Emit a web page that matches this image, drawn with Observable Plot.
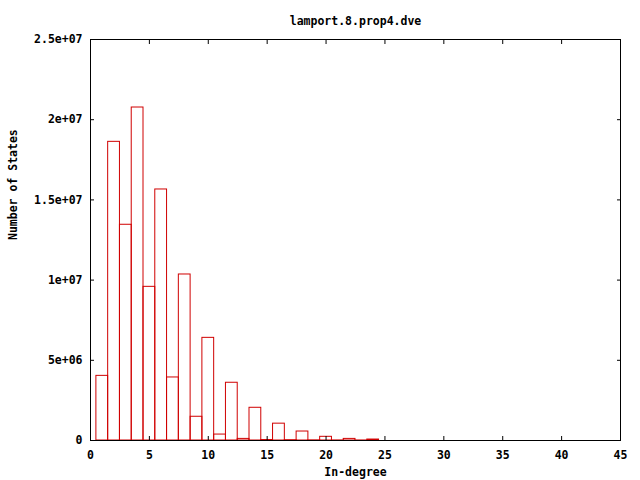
<!DOCTYPE html>
<html>
<head>
<meta charset="utf-8">
<script src="https://cdn.jsdelivr.net/npm/d3@7"></script>
<script src="https://cdn.jsdelivr.net/npm/@observablehq/plot@0.6"></script>
<style>
  html, body { margin: 0; padding: 0; background: #fff; }
</style>
</head>
<body>
<div id="chart"></div>
<script>
const title = "lamport.8.prop4.dve";
const xLabel = "In-degree";
const yLabel = "Number of States";

const inDegree = [1, 2, 3, 4, 5, 6, 7, 8, 9, 10, 11, 12, 13, 14, 15, 16, 17, 18, 19, 20, 21, 22, 23, 24];
const states = [4030000, 18620000, 13450000, 20760000, 9580000, 15650000, 3930000, 10350000,
                1480000, 6400000, 370000, 3600000, 100000, 2040000, 30000, 1050000,
                20000, 560000, 10000, 230000, 5000, 100000, 3000, 60000];

const xTicks = [0, 5, 10, 15, 20, 25, 30, 35, 40, 45];
const yTicks = [0, 5000000, 10000000, 15000000, 20000000, 25000000];
const yTickLabels = ["0", "5e+06", "1e+07", "1.5e+07", "2e+07", "2.5e+07"];

const data = inDegree.map((x, i) => ({x, v: states[i]}));
const barColor = "#d00000";

const chart = Plot.plot({
  width: 640,
  height: 480,
  marginTop: 39,
  marginBottom: 40,
  marginLeft: 90,
  marginRight: 20,
  style: {
    fontFamily: "'DejaVu Sans Mono', 'Liberation Mono', monospace",
    fontSize: "11.5px",
    fontWeight: "bold",
    color: "black",
    background: "white"
  },
  x: {domain: [0, 45]},
  y: {domain: [0, 25000000]},
  marks: [
    Plot.rectY(data, {
      x1: d => d.x - 0.5,
      x2: d => d.x + 0.5,
      y1: 0,
      y2: "v",
      fill: "none",
      stroke: barColor,
      strokeWidth: 1
    }),
    Plot.frame({stroke: "black", strokeWidth: 1}),
    // inward ticks on all sides
    Plot.axisX({anchor: "bottom", ticks: xTicks, tickSize: -4, text: null, label: null}),
    Plot.axisX({anchor: "top", ticks: xTicks, tickSize: -4, text: null, label: null}),
    Plot.axisY({anchor: "left", ticks: yTicks, tickSize: -4, text: null, label: null}),
    Plot.axisY({anchor: "right", ticks: yTicks, tickSize: -4, text: null, label: null}),
    // tick labels
    Plot.axisX({anchor: "bottom", ticks: xTicks, tickSize: 0, tickPadding: 10, tickFormat: d => String(d), label: null}),
    Plot.axisY({anchor: "left", ticks: yTicks, tickSize: 0, tickPadding: 8,
      tickFormat: d => yTickLabels[yTicks.indexOf(d)], label: null}),
    // titles
    Plot.text([title], {text: d => d, frameAnchor: "top", dy: -23}),
    Plot.text([xLabel], {text: d => d, frameAnchor: "bottom", dy: 35}),
    Plot.text([yLabel], {text: d => d, frameAnchor: "left", rotate: -90, dx: -77})
  ]
});
document.getElementById("chart").appendChild(chart);
</script>
</body>
</html>
